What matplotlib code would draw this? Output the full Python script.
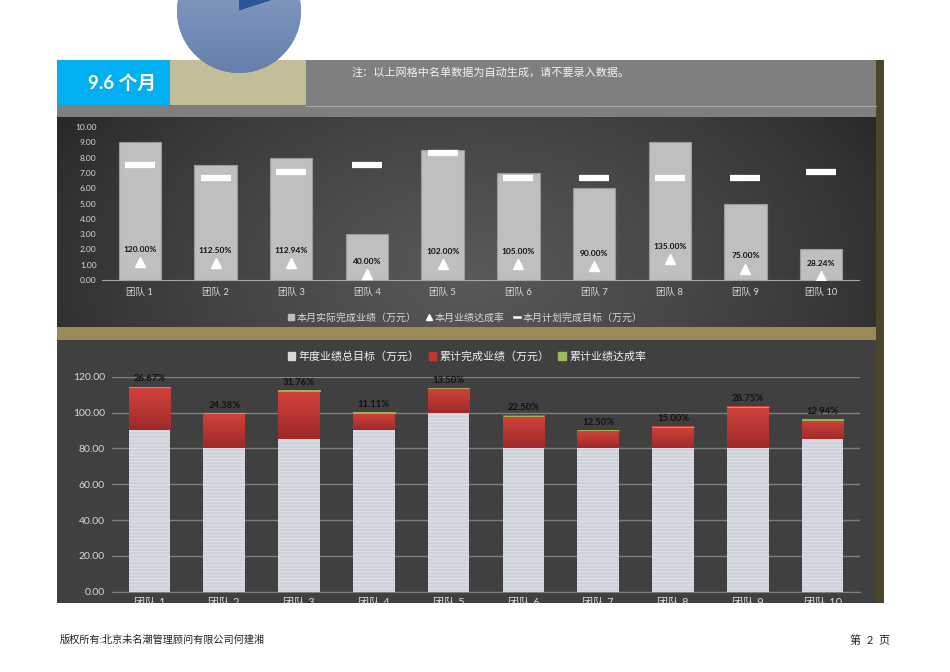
import numpy as np
import matplotlib
matplotlib.use('Agg')
import matplotlib.pyplot as plt
from matplotlib.lines import Line2D
from matplotlib.patches import Patch, Rectangle
from matplotlib.colors import LinearSegmentedColormap

plt.rcParams['font.family'] = ['Lato', 'Noto Sans CJK SC', 'DejaVu Sans']
plt.rcParams['hatch.linewidth'] = 0.6

# data
teams = ['团队 1', '团队 2', '团队 3', '团队 4', '团队 5',
         '团队 6', '团队 7', '团队 8', '团队 9', '团队 10']
month_actual = [9.0, 7.5, 8.0, 3.0, 8.5, 7.0, 6.0, 9.0, 5.0, 2.0]
month_target = [7.5, 6.67, 7.08, 7.5, 8.33, 6.67, 6.67, 6.67, 6.67, 7.08]
month_rate = [1.20, 1.125, 1.1294, 0.40, 1.02, 1.05, 0.90, 1.35, 0.75, 0.2824]
year_target = [90, 80, 85, 90, 100, 80, 80, 80, 80, 85]
year_done = [24, 19.5, 27, 10, 13.5, 18, 10, 12, 23, 11]
year_rate = [0.2667, 0.2438, 0.3176, 0.1111, 0.135, 0.225, 0.125, 0.15, 0.2875, 0.1294]
months_passed = 9.6
months_total = 12

W, H = 950, 672


def box(x0, y0, x1, y1):
    # pixel box (top-left origin) -> figure coords
    return [x0 / W, 1 - y1 / H, (x1 - x0) / W, (y1 - y0) / H]


fig = plt.figure(figsize=(9.5, 6.72), dpi=100)

# page layer in pixel coords
page = fig.add_axes([0, 0, 1, 1], zorder=0)
page.set_axis_off()


def rect(x0, y0, x1, y1, color, z=1):
    page.add_patch(Rectangle((x0, y0), x1 - x0, y1 - y0, facecolor=color,
                             edgecolor='none', zorder=z))


rect(57, 60, 170, 105, '#00b0f0')
rect(170, 60, 306, 106, '#c3bd98')
rect(306, 60, 876, 105, '#7f7f7f')
rect(57, 105, 876, 117, '#7f7f7f')
page.plot([306, 876], [105.5, 105.5], color='#a6a6a6', lw=0.8, zorder=2)
rect(57, 327, 876, 340, '#988b55')
rect(57, 340, 876, 603, '#404040')
rect(876, 60, 884, 603, '#4b4529')

# radial background of the top chart
gx = np.linspace(57, 876, 400)
gy = np.linspace(117, 327, 120)
X, Y = np.meshgrid(gx, gy)
r = np.sqrt(((X - 470) / 470) ** 2 + ((Y - 275) / 300) ** 2)
v = 0.16 + 0.19 * np.clip(1 - r, 0, 1) ** 0.8
rgb = np.dstack([v, v, v])
page.imshow(rgb, extent=(57, 876, 327, 117), aspect='auto', zorder=1,
            interpolation='bilinear')
page.set_xlim(0, W)
page.set_ylim(H, 0)

page.text(122, 83, f'{months_passed} 个月', color='white', fontsize=13.5,
          fontweight='bold', ha='center', va='center', zorder=3)
page.text(352, 72, '注：以上网格中名单数据为自动生成，请不要录入数据。',
          color='#f2f2f2', fontsize=8, ha='left', va='center', zorder=3)

# progress pie at the top
axp = fig.add_axes(box(177, -51, 301, 73), zorder=3)
wedges, _ = axp.pie([months_total - months_passed, months_passed],
                    colors=['#2b5797', '#7a91bb'], startangle=90,
                    counterclock=False, radius=1)
blue_cmap = LinearSegmentedColormap.from_list('pb', ['#6680aa', '#8ea4cb'])
im = axp.imshow(np.linspace(0, 1, 100).reshape(-1, 1), extent=[-1, 1, -1, 1],
                origin='lower', cmap=blue_cmap, aspect='auto', zorder=2)
im.set_clip_path(wedges[1])
axp.set_xlim(-1, 1)
axp.set_ylim(-1, 1)
axp.set_aspect('equal')
axp.set_axis_off()

x = np.arange(len(teams))
tick_col = '#d9d9d9'

# chart 1: monthly
ax1 = fig.add_axes(box(102, 127, 859, 280), zorder=2)
ax1.patch.set_alpha(0)
ax1.bar(x, month_actual, 0.56, color='#bfbfbf', edgecolor='#9a9a9a', lw=0.8, zorder=2)
ax1.plot(x, month_target, ls='none', marker='_', ms=21, mew=4.5, color='white', zorder=3)
ax1.plot(x, month_rate, ls='none', marker='^', ms=7, color='white', zorder=3)
for xi, rt in zip(x, month_rate):
    ax1.annotate(f'{rt * 100:.2f}%', (xi, rt), xytext=(0, 6.5), textcoords='offset points',
                 ha='center', va='bottom', fontsize=6, fontweight='bold', color='#111111', zorder=4)
ax1.set_xlim(-0.5, 9.5)
ax1.set_ylim(0, 10)
ax1.set_yticks(np.arange(0, 11, 1))
ax1.set_yticklabels([f'{t:.2f}' for t in range(11)])
ax1.set_xticks(x)
ax1.set_xticklabels(teams)
ax1.tick_params(length=0, labelsize=6, colors=tick_col)
ax1.tick_params(axis='x', labelsize=6.8, pad=6)
ax1.tick_params(axis='y', pad=4)
for s in ['top', 'right', 'left']:
    ax1.spines[s].set_visible(False)
ax1.spines['bottom'].set_color('#a6a6a6')

h1 = [Line2D([], [], ls='none', marker='s', ms=4, color='#bfbfbf'),
      Line2D([], [], ls='none', marker='^', ms=4.5, color='white'),
      Line2D([], [], color='white', lw=1.8)]
fig.legend(h1, ['本月实际完成业绩（万元）', '本月业绩达成率', '本月计划完成目标（万元）'],
           loc='center', bbox_to_anchor=(465 / W, 1 - 318 / H), ncol=3, frameon=False,
           fontsize=7.2, labelcolor=tick_col, handlelength=0.6, handletextpad=0.3,
           columnspacing=0.9)

# chart 2: yearly cumulative
ax2 = fig.add_axes(box(112, 376.7, 860, 591.7), zorder=2)
ax2.patch.set_alpha(0)
ax2.set_axisbelow(True)
ax2.grid(axis='y', color='#7f7f7f', lw=1)
ax2.bar(x, year_target, 0.557, color='#cdd1da', edgecolor='#e3e5eb', lw=0,
        hatch='-----', zorder=2)
red_bars = ax2.bar(x, year_done, 0.557, bottom=year_target, color='#c0392b', zorder=2)
red_cmap = LinearSegmentedColormap.from_list('rg', ['#9e2a2a', '#d2423b'])
for b in red_bars:
    ax2.imshow(np.linspace(0, 1, 50).reshape(-1, 1),
               extent=[b.get_x(), b.get_x() + b.get_width(), b.get_y(), b.get_y() + b.get_height()],
               origin='lower', cmap=red_cmap, aspect='auto', zorder=2.5)
tops = np.array(year_target) + np.array(year_done)
ax2.bar(x, year_rate, 0.557, bottom=tops, color='#9bbb59', edgecolor='#a3b04f', lw=0.7, zorder=3)
for xi, t, rt in zip(x, tops, year_rate):
    ax2.annotate(f'{rt * 100:.2f}%', (xi, t + rt), xytext=(0, 2.5), textcoords='offset points',
                 ha='center', va='bottom', fontsize=6.8, fontweight='bold', color='#111111', zorder=4)
ax2.set_xlim(-0.5, 9.5)
ax2.set_ylim(0, 120)
ax2.set_yticks(np.arange(0, 121, 20))
ax2.set_yticklabels([f'{t:.2f}' for t in range(0, 121, 20)])
ax2.set_xticks(x)
ax2.set_xticklabels(teams)
ax2.tick_params(length=0, labelsize=7.5, colors=tick_col)
ax2.tick_params(axis='y', pad=5)
ax2.tick_params(axis='x', labelsize=8, pad=4)
for s in ['top', 'right', 'left']:
    ax2.spines[s].set_visible(False)
ax2.spines['bottom'].set_color('#7f7f7f')

h2 = [Patch(color='#d9d9d9'), Patch(color='#c0392b'), Patch(color='#9bbb59')]
fig.legend(h2, ['年度业绩总目标（万元）', '累计完成业绩（万元）', '累计业绩达成率'],
           loc='center', bbox_to_anchor=(467 / W, 1 - 356 / H), ncol=3, frameon=False,
           fontsize=7.9, labelcolor='#f2f2f2', handlelength=0.7, handleheight=0.7,
           handletextpad=0.3, columnspacing=0.8)

# white footer band that cuts the lower tick labels
cover = fig.add_axes(box(0, 603, 950, 672), zorder=5)
cover.set_xlim(0, W)
cover.set_ylim(672, 603)
cover.set_facecolor('white')
cover.set_xticks([])
cover.set_yticks([])
for s in cover.spines.values():
    s.set_visible(False)
cover.text(60, 640, '版权所有:北京未名潮管理顾问有限公司何建湘', fontsize=7.3,
           color='#222222', ha='left', va='center')
cover.text(870, 640, '第  2  页', fontsize=8, color='#222222', ha='center', va='center')

fig.savefig('out.png', dpi=100)
